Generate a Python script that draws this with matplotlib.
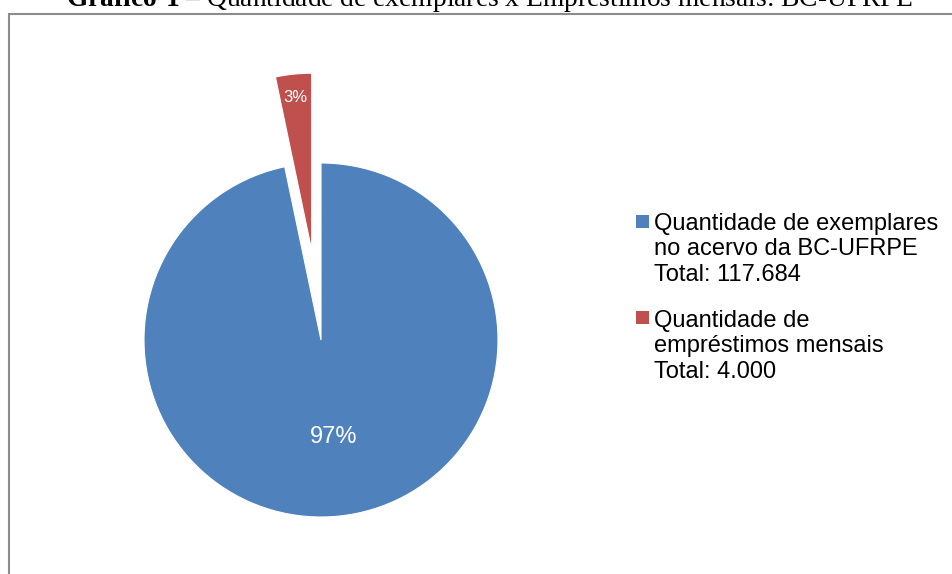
import numpy as np
import matplotlib.pyplot as plt
from matplotlib.patches import Rectangle

labels = ["Quantidade de exemplares\nno acervo da BC-UFRPE\nTotal: 117.684",
          "Quantidade de\nempréstimos mensais\nTotal: 4.000"]
values = [117684, 4000]
colors = ["#4F81BD", "#C0504D"]

plt.rcParams["mathtext.fontset"] = "custom"
plt.rcParams["mathtext.bf"] = "Liberation Serif:bold"
plt.rcParams["mathtext.rm"] = "Liberation Serif"

W, H = 952, 574
fig = plt.figure(figsize=(W / 100, H / 100), dpi=100)
ax = fig.add_axes([0, 0, 1, 1])

# chart frame (cut at right and bottom like the source)
ax.add_patch(Rectangle((9, -20), W + 50, H - 14 + 20, fill=False,
                       edgecolor="#8c8c8c", linewidth=1.5))

radius = 177
explode = [0, 0.51 * radius]  # pie explode is in data units here
wedges, texts, autotexts = ax.pie(
    values, colors=colors, explode=explode, startangle=90, counterclock=False,
    center=(321, H - 340), radius=radius, autopct="%1.0f%%", pctdistance=0.55,
    wedgeprops=dict(edgecolor="white", linewidth=0.8), frame=True,
    textprops=dict(family="Liberation Sans", color="white"))
ax.set_xlim(0, W)
ax.set_ylim(0, H)
ax.axis("off")

autotexts[0].set_fontsize(17)
autotexts[0].set_x(autotexts[0].get_position()[0] + 3)
# small label sits near the outer edge of its exploded slice
w = wedges[1]
mid = np.deg2rad((w.theta1 + w.theta2) / 2)
cx, cy = w.center
autotexts[1].set_position((cx + 0.87 * radius * np.cos(mid), cy + 0.87 * radius * np.sin(mid)))
autotexts[1].set_fontsize(12)

# legend
text_tops = [213, 310]
box_tops = [215, 311]
for lab, col, ttop, btop in zip(labels, colors, text_tops, box_tops):
    ax.add_patch(Rectangle((636, H - btop - 13), 13, 13, facecolor=col, edgecolor="none"))
    ax.text(654, H - ttop, lab, fontsize=17, family="Liberation Sans", va="top",
            ha="left", linespacing=1.2)

fig.text(489 / W, 1 - 6 / H, r"$\bf{Gráfico\ 1}$" + " – Quantidade de exemplares x Empréstimos mensais: BC-UFRPE",
         ha="center", va="baseline", fontsize=19.8, family="Liberation Serif")

fig.savefig("out.png", dpi=100)
